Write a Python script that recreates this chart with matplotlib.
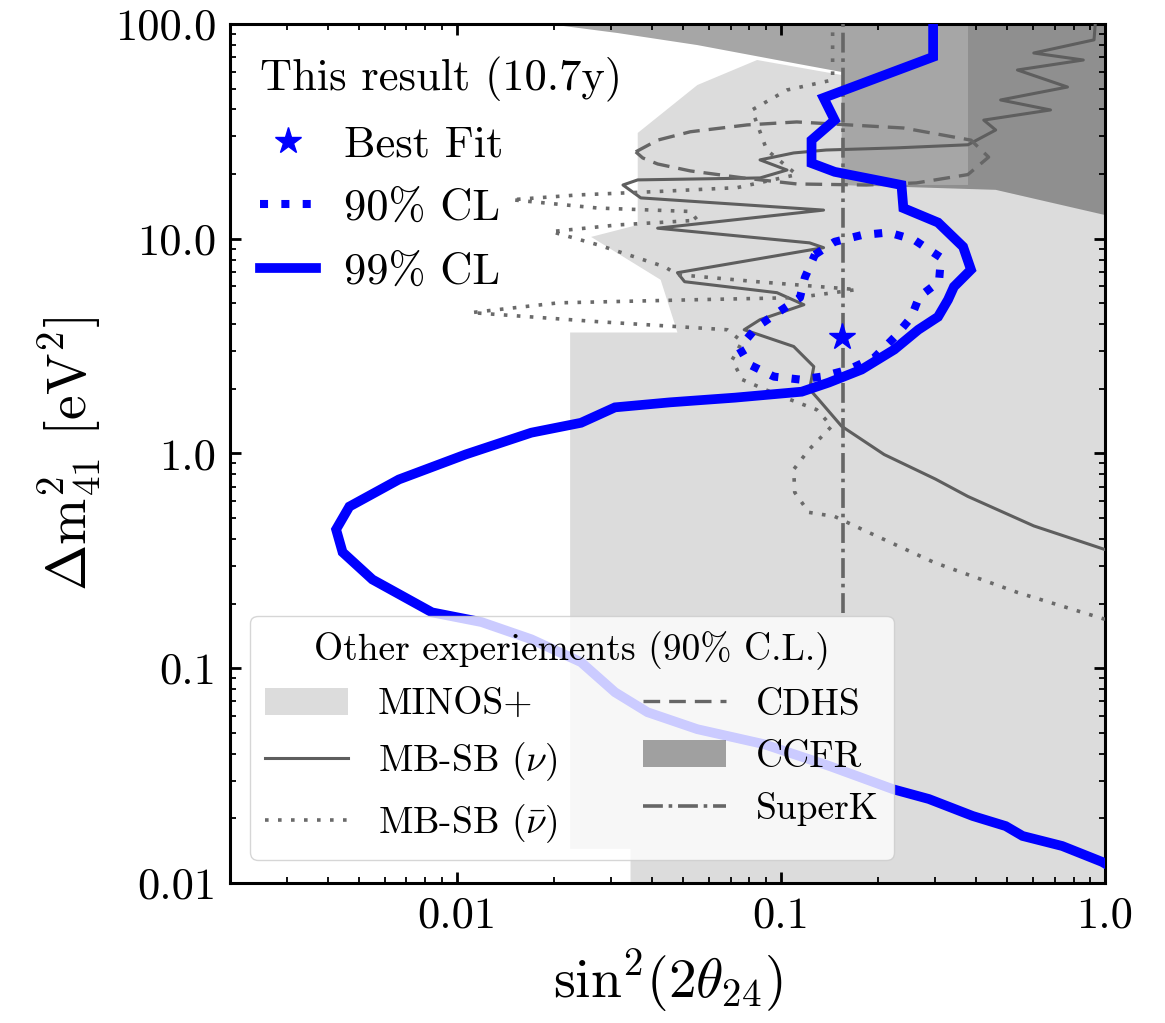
import numpy as np
import matplotlib
matplotlib.use("Agg")
from matplotlib import pyplot as plt
from matplotlib.patches import Patch
from matplotlib.lines import Line2D
from matplotlib.ticker import NullFormatter, FixedLocator, FixedFormatter

plt.rcParams['font.family'] = 'serif'
plt.rcParams['font.serif'] = ['cmr10']
plt.rcParams['mathtext.fontset'] = 'cm'
plt.rcParams['axes.formatter.use_mathtext'] = True

# this result: 99% CL contour
x99 = [0.295, 0.295, 0.1355, 0.1466, 0.1244, 0.1244, 0.1466, 0.2356, 0.2388, 0.3055,
       0.365, 0.386, 0.342, 0.328, 0.3055, 0.2655, 0.224, 0.1775, 0.1406, 0.116,
       0.0722, 0.0454, 0.0308, 0.0242, 0.0170, 0.01067, 0.00664, 0.00467, 0.00425, 0.00445,
       0.0055, 0.0084, 0.01194, 0.0170, 0.0242, 0.0308, 0.0388, 0.0553, 0.0887, 0.1416,
       0.2223, 0.2862, 0.391, 0.494, 0.557, 0.738, 0.98, 1.05]
y99 = [100, 70.3, 45.3, 35.7, 28.8, 22.5, 20.5, 17.8, 13.9, 11.9,
       9.18, 7.18, 5.98, 5.20, 4.33, 3.77, 3.05, 2.46, 2.14, 1.94,
       1.82, 1.73, 1.64, 1.39, 1.25, 0.99, 0.757, 0.566, 0.443, 0.347,
       0.259, 0.182, 0.164, 0.1364, 0.1067, 0.0773, 0.0624, 0.052, 0.0443, 0.035,
       0.0273, 0.0246, 0.0205, 0.0184, 0.01655, 0.01486, 0.01253, 0.0118]

# this result: 90% CL contour
x90 = [0.1274, 0.1466, 0.1775, 0.215, 0.2576, 0.312, 0.3076, 0.2673, 0.2523, 0.224, 0.1945,
       0.1618, 0.1337, 0.1146, 0.0953, 0.0798, 0.0745, 0.0846, 0.0987, 0.1146, 0.1186, 0.1274]
y90 = [8.43, 9.68, 10.4, 10.7, 9.89, 8.17, 6.31, 5.37, 4.30, 3.47, 2.80,
       2.46, 2.28, 2.21, 2.28, 2.60, 3.11, 3.90, 4.57, 5.32, 6.59, 8.43]

best_fit = (0.154, 3.5)

# MINOS+ excluded region
x_minos = [0.0344, 0.0344, 0.0224, 0.0224, 0.048, 0.0426, 0.026, 0.0362, 0.0362, 0.0553,
           0.0845, 0.154, 0.154, 0.378, 0.378, 1.0, 1.0]
y_minos = [0.01, 0.0144, 0.0144, 3.66, 3.66, 6.44, 10.2, 11.6, 31.1, 52.0,
           68.0, 57.9, 17.8, 17.8, 100, 100, 0.01]

# CCFR excluded region
x_ccfr = [0.0192, 0.0314, 0.0553, 0.0973, 0.154, 0.154, 0.46, 1.0, 1.0]
y_ccfr = [100, 90.8, 79.8, 68.0, 59.8, 17.8, 16.9, 12.9, 100]

# CDHS contour
x_cdhs = [0.0357, 0.0417, 0.0526, 0.0787, 0.112, 0.239, 0.386, 0.4375, 0.3776, 0.262,
          0.1836, 0.112, 0.0766, 0.0526, 0.0417, 0.0375, 0.0357]
y_cdhs = [25.4, 28.8, 31.5, 33.9, 35.0, 32.8, 28.8, 24.0, 19.9, 18.2,
          17.8, 18.0, 19.2, 20.7, 22.3, 23.8, 25.4]

# MiniBooNE/SciBooNE neutrino mode
x_mbnu = [0.933, 0.925, 0.603, 0.857, 0.537, 0.766, 0.4766, 0.679, 0.4227, 0.46,
          0.378, 0.227, 0.138, 0.1096, 0.0863, 0.1045, 0.0863, 0.0362, 0.0326, 0.037,
          0.1355, 0.0417, 0.1227, 0.1355, 0.048, 0.0505, 0.0973, 0.1178, 0.0863, 0.0771,
          0.1096, 0.1264, 0.1227, 0.131, 0.154, 0.2084, 0.30, 0.3776, 0.603, 1.0]
y_mbnu = [100, 84.4, 73.3, 68.0, 61.1, 50.9, 44.3, 39.8, 35.7, 32.1,
          27.4, 26.5, 25.9, 25.1, 23.3, 20.9, 19.2, 18.8, 17.8, 15.5,
          13.6, 11.2, 9.57, 9.09, 6.95, 6.31, 5.61, 4.93, 4.20, 3.77,
          3.15, 2.54, 1.99, 1.78, 1.34, 0.989, 0.76, 0.631, 0.46, 0.357]

# MiniBooNE/SciBooNE antineutrino mode
x_mbnubar = [1.0, 0.537, 0.297, 0.186, 0.1466, 0.122, 0.1104, 0.1096, 0.122, 0.1436,
             0.129, 0.0973, 0.076, 0.0708, 0.076, 0.0684, 0.0273, 0.0111, 0.0206, 0.0541,
             0.112, 0.1714, 0.0845, 0.048, 0.0438, 0.0273, 0.0196, 0.0314, 0.0553, 0.0526,
             0.0273, 0.01476, 0.0237, 0.0417, 0.0733, 0.112, 0.0905, 0.0815, 0.1045, 0.1445,
             0.1445]
y_mbnubar = [0.169, 0.2254, 0.311, 0.430, 0.509, 0.532, 0.659, 0.843, 1.04, 1.34,
             1.60, 1.88, 2.21, 2.73, 3.32, 3.77, 4.11, 4.53, 5.03, 5.20,
             5.32, 5.80, 6.31, 6.81, 7.41, 9.37, 10.8, 11.6, 12.2, 13.4,
             13.9, 15.2, 16.0, 16.6, 17.3, 19.9, 25.9, 39.8, 49.3, 54.9,
             93.8]

# SuperK bound
x_superk = 0.156
y_superk = [0.18, 100]

xticks = [0.01, 0.1, 1.0]
xticklabels = ['0.01', '0.1', '1.0']
yticks = [0.01, 0.1, 1.0, 10.0, 100.0]
yticklabels = ['0.01', '0.1', '1.0', '10.0', '100.0']

fig = plt.figure(figsize=(11.65, 10.23), dpi=100)
ax = fig.add_axes([0.1974, 0.1369, 0.7511, 0.8396])
ax.set_xscale('log')
ax.set_yscale('log')

minos_c = '#dcdcdc'
ccfr_c = (0, 0, 0, 0.35)
line_c = '#5e5e5e'

ax.fill(x_minos, y_minos, color=minos_c, lw=0, zorder=1)
ax.fill(x_ccfr, y_ccfr, color=ccfr_c, lw=0, zorder=2)

ax.plot(x_mbnu, y_mbnu, color=line_c, lw=2.2, zorder=3)
ax.plot(x_mbnubar, y_mbnubar, color='#6a6a6a', lw=2.6, linestyle=(0, (1, 2.6)), zorder=3)
ax.plot(x_cdhs, y_cdhs, color='#666666', lw=2.4, linestyle=(0, (5, 2.7)), zorder=3)
ax.plot([x_superk, x_superk], y_superk, color='#666666', lw=2.6,
        linestyle=(0, (5.5, 1.6, 1, 1.6)), zorder=3)

ax.plot(x99, y99, color='blue', lw=7, solid_joinstyle='miter', zorder=5)
ax.plot(x90, y90, color='blue', lw=5.8, linestyle=':', zorder=5)
ax.plot([best_fit[0]], [best_fit[1]], marker='*', color='blue', ms=20, lw=0, zorder=6)

ax.set_xlim(0.002, 1.0)
ax.set_ylim(0.01, 100)
ax.xaxis.set_major_locator(FixedLocator(xticks))
ax.xaxis.set_major_formatter(FixedFormatter(xticklabels))
ax.yaxis.set_major_locator(FixedLocator(yticks))
ax.yaxis.set_major_formatter(FixedFormatter(yticklabels))
ax.xaxis.set_minor_formatter(NullFormatter())
ax.yaxis.set_minor_formatter(NullFormatter())
ax.tick_params(which='both', direction='in', top=True, right=True, labelsize=32)
ax.tick_params(which='major', length=8, width=2, pad=10)
ax.tick_params(which='minor', length=4, width=1.3)
for s in ax.spines.values():
    s.set_linewidth(2.2)

ax.set_xlabel(r'$\mathrm{sin}^2(2\theta_{24})$', fontsize=40, labelpad=8)
ax.set_ylabel(r'$\Delta \mathrm{m}^2_{41}$ $[\mathrm{eV}^2]$', fontsize=40, labelpad=8)

# legend for this result
h_this = [Line2D([], [], color='blue', marker='*', ms=20, lw=0),
          Line2D([], [], color='blue', lw=5.8, linestyle=':'),
          Line2D([], [], color='blue', lw=7)]
leg1 = ax.legend(h_this, ['Best Fit', '90% CL', '99% CL'], title='This result (10.7y)',
                 loc='upper left', bbox_to_anchor=(0.014, 0.983), borderaxespad=0,
                 frameon=False, fontsize=32, title_fontsize=32, alignment='left',
                 handlelength=1.25, handletextpad=0.65, labelspacing=0.53)
ax.add_artist(leg1)

# legend for the other experiments
h_other = [Patch(facecolor=minos_c, edgecolor='none'),
           Line2D([], [], color=line_c, lw=2.2),
           Line2D([], [], color='#6a6a6a', lw=2.6, linestyle=(0, (1, 2.6))),
           Line2D([], [], color='#666666', lw=2.4, linestyle=(0, (5, 2.7))),
           Patch(facecolor=ccfr_c, edgecolor='none'),
           Line2D([], [], color='#666666', lw=2.6, linestyle=(0, (5.5, 1.6, 1, 1.6)))]
l_other = ['MINOS+', r'MB-SB ($\nu$)', r'MB-SB ($\bar{\nu}$)', 'CDHS', 'CCFR', 'SuperK']
leg2 = ax.legend(h_other, l_other, title='Other experiements (90% C.L.)', ncol=2,
                 loc='lower left', bbox_to_anchor=(0.023, 0.027), borderaxespad=0,
                 fontsize=27, title_fontsize=27, handlelength=2.2, handletextpad=0.8,
                 columnspacing=2.3, framealpha=0.8)

fig.savefig('out.png', dpi=100)
